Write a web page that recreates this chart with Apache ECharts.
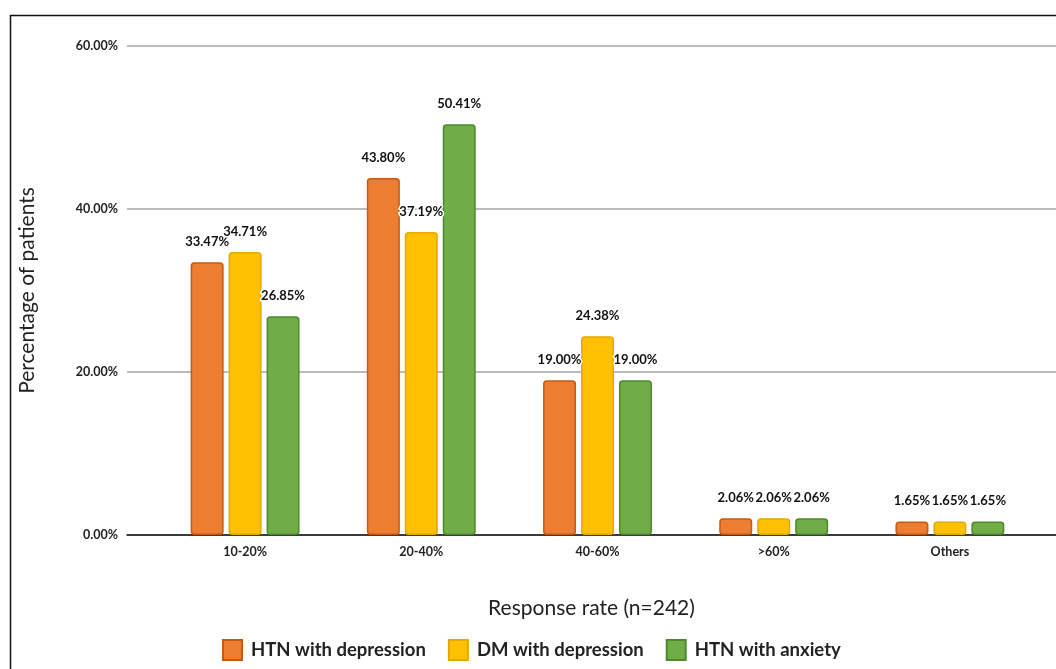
<!DOCTYPE html>
<html>
<head>
<meta charset="utf-8">
<script src="https://cdn.jsdelivr.net/npm/echarts@6/dist/echarts.min.js"></script>
<style>
  html, body { margin: 0; padding: 0; background: #fff; }
  #container { width: 1056px; height: 669px; }
</style>
</head>
<body>
<div id="container"></div>
<script>
const chartIns = echarts.init(document.getElementById('container'));

// data
const categories = ['10-20%', '20-40%', '40-60%', '>60%', 'Others'];
const htnDepression = [33.47, 43.80, 19.00, 2.06, 1.65];
const dmDepression = [34.71, 37.19, 24.38, 2.06, 1.65];
const htnAnxiety = [26.85, 50.41, 19.00, 2.06, 1.65];
const seriesNames = ['HTN with depression', 'DM with depression', 'HTN with anxiety'];

const colors = ['#ED7D31', '#FFC000', '#70AD47'];
const borders = ['#C55A11', '#E6A800', '#4E8A2B'];
const FONT = 'Lato';

const pct = v => v.toFixed(2) + '%';

function barSeries(i, values) {
  return {
    name: seriesNames[i],
    type: 'bar',
    xAxisIndex: 1,
    yAxisIndex: 1,
    barWidth: 33,
    barGap: '15%',
    itemStyle: {
      color: colors[i],
      borderColor: borders[i],
      borderWidth: 1.5,
      borderRadius: 3
    },
    label: {
      show: true,
      position: 'top',
      distance: 14,
      formatter: p => pct(p.value),
      fontFamily: FONT,
      fontWeight: 'bold',
      fontSize: 13,
      color: '#111',
      textBorderColor: '#fff',
      textBorderWidth: 3
    },
    data: values
  };
}

const option = {
  animation: false,
  backgroundColor: '#fff',
  grid: [
    { left: 127, right: 0, top: 46, bottom: 134 },
    { left: 157, right: 18, top: 46, bottom: 134 }
  ],
  xAxis: [
    {
      gridIndex: 0,
      type: 'category',
      data: [''],
      name: 'Response rate (n=242)',
      nameLocation: 'middle',
      nameGap: 63,
      nameTextStyle: { fontFamily: FONT, fontSize: 21, color: '#222' },
      axisLine: { lineStyle: { color: '#111', width: 1.5 } },
      axisTick: { show: false },
      axisLabel: { show: false }
    },
    {
      gridIndex: 1,
      type: 'category',
      data: categories,
      axisLine: { show: false },
      axisTick: { show: false },
      axisLabel: {
        margin: 10,
        fontFamily: FONT,
        fontWeight: 'bold',
        fontSize: 12.5,
        color: '#222'
      }
    }
  ],
  yAxis: [
    {
      gridIndex: 0,
      type: 'value',
      min: 0,
      max: 60,
      interval: 20,
      name: 'Percentage of patients',
      nameLocation: 'middle',
      nameGap: 89,
      nameTextStyle: { fontFamily: FONT, fontSize: 21, color: '#222' },
      axisLine: { show: false },
      axisTick: { show: false },
      axisLabel: {
        margin: 9,
        formatter: v => pct(v),
        fontFamily: FONT,
        fontWeight: 'bold',
        fontSize: 12.5,
        color: '#222'
      },
      splitLine: { lineStyle: { color: '#a6a6a6', width: 1.5 } }
    },
    {
      gridIndex: 1,
      type: 'value',
      min: 0,
      max: 60,
      interval: 20,
      show: false,
      splitLine: { show: false }
    }
  ],
  legend: {
    left: 217,
    top: 634,
    itemWidth: 19,
    itemHeight: 20,
    itemGap: 22,
    icon: 'rect',
    textStyle: { fontFamily: FONT, fontSize: 18.5, fontWeight: 'bold', color: '#222', padding: [0, 0, 0, 4] },
    data: seriesNames
  },
  graphic: [
    {
      type: 'rect',
      left: 8,
      top: 13,
      shape: { width: 1100, height: 700 },
      style: { fill: 'none', stroke: '#111', lineWidth: 1.5 },
      silent: true
    }
  ],
  series: [
    barSeries(0, htnDepression),
    barSeries(1, dmDepression),
    barSeries(2, htnAnxiety)
  ]
};

chartIns.setOption(option);
</script>
</body>
</html>
